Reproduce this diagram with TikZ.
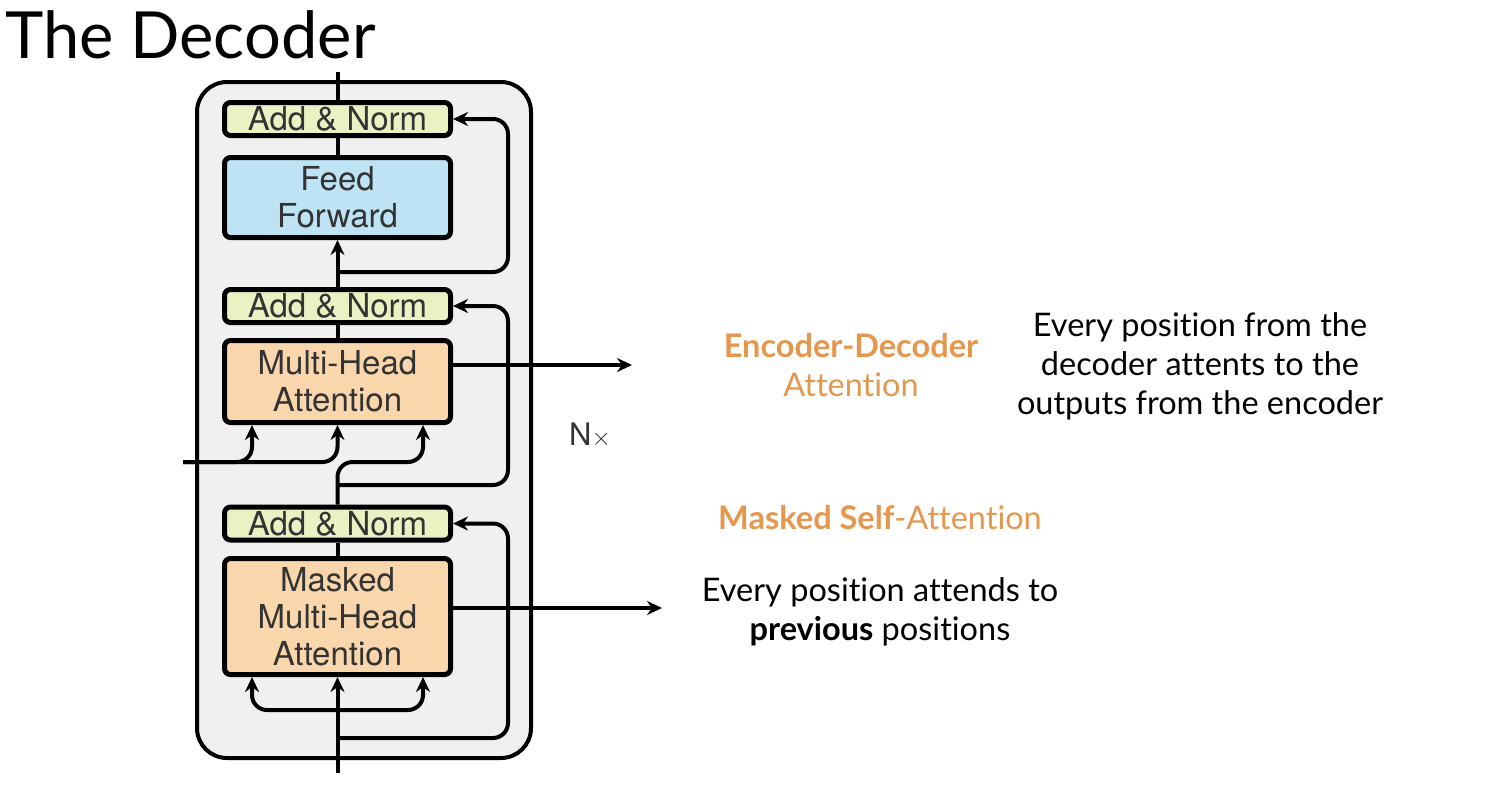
\documentclass[tikz,border=0pt]{standalone}
\usepackage{fontspec}
\setmainfont{Lato}[Ligatures=NoCommon]
\newfontfamily\boxfont{TeX Gyre Heros}
\usetikzlibrary{arrows.meta}

\definecolor{normcol}{RGB}{234,242,196}
\definecolor{ffcol}{RGB}{190,227,245}
\definecolor{attcol}{RGB}{250,214,172}
\definecolor{stackcol}{RGB}{240,240,240}
\definecolor{hilite}{RGB}{229,151,78}

\begin{document}
\begin{tikzpicture}[x=1pt,y=-1pt,
    block/.style={draw, line width=5pt, rounded corners=6pt, minimum width=226pt,
        text=black!80, align=center, font=\boxfont\fontsize{33}{37}\selectfont},
    normbox/.style={block, fill=normcol, minimum height=33pt},
    wire/.style={line width=4pt},
    arrow/.style={wire, -{Stealth[length=15pt,width=14pt]}},
    res/.style={arrow, rounded corners=15pt},
    slide/.style={font=\fontsize{32.5}{39}\selectfont, align=center}]
    \useasboundingbox (0,0) rectangle (1498,807);

    % title
    \node[anchor=base west, font=\fontsize{65}{65}\selectfont] (title) at (2,58) {The Decoder};

    % the N times repeated stack
    \node[draw, line width=4pt, fill=stackcol, rounded corners=30pt,
        minimum width=334pt, minimum height=676pt] (stack) at (364,420) {};

    % boxes, bottom to top
    \node[block, fill=attcol, minimum height=116pt] (mmha) at (337.5,616.5) {Masked\\Multi-Head\\Attention};
    \node[normbox] (an3) at (337.5,523.5) {Add \& Norm};
    \node[block, fill=attcol, minimum height=82pt] (mha) at (337.5,381.5) {Multi-Head\\Attention};
    \node[normbox] (an2) at (337.5,306) {Add \& Norm};
    \node[block, fill=ffcol, minimum height=80pt] (ff) at (337.5,197.5) {Feed\\Forward};
    \node[normbox] (an1) at (337.5,119) {Add \& Norm};

    \node[font=\boxfont\fontsize{31}{31}\selectfont, text=black!80] (nx) at (590,435) {N$\times$};

    % free ends and branch points
    \coordinate (in) at (337.5,773);
    \coordinate (out) at (337.5,72);
    \coordinate (b1) at (337.5,710);
    \coordinate (r3) at (337.5,738);
    \coordinate (r2) at (337.5,485);
    \coordinate (r1) at (337.5,272);
    \coordinate (encin) at (183,462);
    \coordinate (eo) at (632,365);
    \coordinate (mo) at (662,608);

    % masked self-attention sublayer
    \draw[arrow] (in) -- (mmha.south);
    \draw[arrow, rounded corners=15pt] (b1) -| ([xshift=-85.5pt]mmha.south);
    \draw[arrow, rounded corners=15pt] (b1) -| ([xshift=85.5pt]mmha.south);
    \draw[res] (r3) -| ([xshift=55pt]an3.east) -- (an3.east);
    \draw[wire] (mmha.north) -- (an3.south);
    \draw[arrow] (mmha.east |- mo) -- (mo);

    % encoder-decoder attention sublayer
    \draw[arrow, rounded corners=15pt] (an3.north) -- (r2 |- encin) -| ([xshift=85.5pt]mha.south);
    \draw[arrow, rounded corners=15pt] (encin) -| (mha.south);
    \draw[arrow, rounded corners=15pt] (encin) -| ([xshift=-85.5pt]mha.south);
    \draw[res] (r2) -| ([xshift=55pt]an2.east) -- (an2.east);
    \draw[wire] (mha.north) -- (an2.south);
    \draw[arrow] (mha.east |- eo) -- (eo);

    % feed forward sublayer
    \draw[arrow] (an2.north) -- (ff.south);
    \draw[res] (r1) -| ([xshift=55pt]an1.east) -- (an1.east);
    \draw[wire] (ff.north) -- (an1.south);
    \draw[wire] (an1.north) -- (out);

    % notes on the right
    \node[slide, text=hilite] (ed) at (851,365) {\textbf{Encoder-Decoder}\\Attention};
    \node[slide] (edtext) at (1200,366) {Every position from the\\decoder attents to the\\outputs from the encoder};
    \node[slide, text=hilite] (ms) at (880,518) {\textbf{Masked Self}-Attention};
    \node[slide] (mstext) at (880,612) {Every position attends to\\\textbf{previous} positions};
\end{tikzpicture}
\end{document}
